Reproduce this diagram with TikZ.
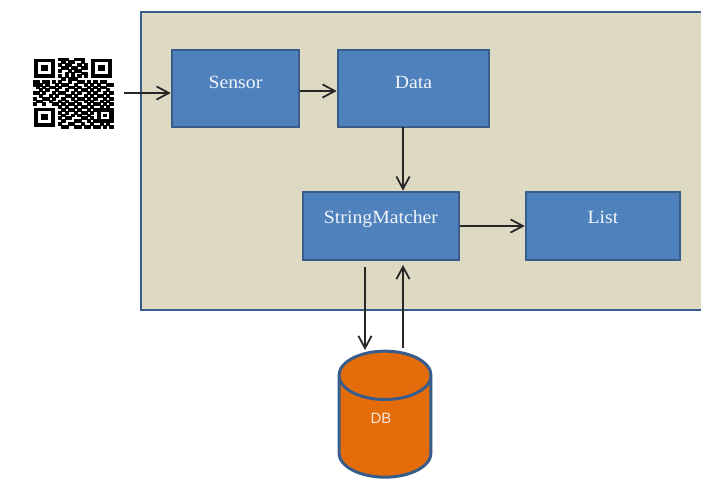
\documentclass[tikz,border=0pt]{standalone}
\usepackage{fontspec}
\setmainfont[FakeStretch=1.06]{Liberation Serif}
\newfontfamily\dbfont{Liberation Sans}
\usetikzlibrary{shapes, shapes.geometric, arrows.meta, positioning}
\definecolor{tan}{HTML}{DDD9C3}
\definecolor{boxblue}{HTML}{4F81BD}
\definecolor{edgeblue}{HTML}{385D8A}
\definecolor{dborange}{HTML}{E46C0A}
\tikzstyle{outerbox} = [rectangle, draw=edgeblue, fill=tan, line width=1.6pt, inner sep = 0pt]
\tikzstyle{bluebox} = [rectangle, draw=edgeblue, fill=boxblue, line width=1.5pt, inner sep = 0pt, text=white!92!boxblue, font=\fontsize{10.6}{12}\selectfont, text height=7pt, text depth=7.5pt]
\tikzstyle{lowbox} = [bluebox, text depth=9.7pt]
\tikzstyle{dbnode} = [cylinder, shape border rotate=90, shape aspect=2.2, draw=edgeblue, fill=dborange, line width=1.7pt, inner sep = 0pt, font=\dbfont\fontsize{9}{11}\selectfont]
\tikzstyle{dbtext} = [text=white!85!dborange, font=\dbfont\fontsize{8.5}{11}\selectfont]
\tikzstyle{line} = [draw, -{Straight Barb[length=7pt, width=7.5pt]}, line width=1pt, black!85]
\tikzstyle{module} = [fill, draw, line width=0.35pt, line join=round]
\begin{document}
\begin{tikzpicture}[x=0.02cm, y=-0.02cm]
			\useasboundingbox [fill=white] (0,0) rectangle (701,479);

			\node [outerbox, minimum width=11.38cm, minimum height=5.96cm] (panel) at (425.5,161) {};
			\node [bluebox, minimum width=2.54cm, minimum height=1.54cm] (sensor) at (235.5,88.5) {Sensor};
			\node [bluebox, minimum width=3.02cm, minimum height=1.54cm] (data) at (413.5,88.5) {Data};
			\node [lowbox, minimum width=3.12cm, minimum height=1.36cm] (matcher) at (381,226) {StringMatcher};
			\node [lowbox, minimum width=3.08cm, minimum height=1.36cm] (list) at (603,226) {List};
			\node [dbnode, minimum width=1.84cm, minimum height=2.52cm] (db) at (385,427) {\phantom{DB}};
			\node [dbtext] (dbname) at (381,418) {DB};

			% QR code
			\foreach \cx/\cy in {34/59, 91/59, 34/108} {
				\fill (\cx,\cy) rectangle +(21,19);
				\fill [white] (\cx+4,\cy+3.5) rectangle +(13,12);
				\fill (\cx+7,\cy+6.5) rectangle +(7,6);
			}
			\foreach \r/\clist in {
				0/{8,9,10,13,14,15},
				1/{9,11,12,15},
				2/{8,10,11,14,16},
				3/{9,10,12,13,15,16},
				4/{8,11,13,14},
				5/{10,12,15,16},
				6/{8,10,12,14,16},
				7/{9,11,12,13},
				8/{0,1,3,4,6,8,11,14,15,17,19,21,22},
				9/{0,1,2,4,7,9,10,13,16,18,20,23,24},
				10/{1,3,5,6,8,11,12,14,17,19,21,22},
				11/{2,4,7,10,13,15,16,18,20,23},
				12/{0,1,3,6,8,9,12,14,17,19,22,24},
				13/{2,5,7,10,11,13,16,18,20,21,23},
				14/{0,3,4,6,9,12,14,15,17,19,22,24},
				15/{1,2,5,8,10,13,16,18,21,23},
				16/{0,3,6,7,9,11,12,14,17,19,20,22,24},
				17/{8,10,13,15,16,18,21,23},
				18/{9,11,12,14,17,19,20,21,22,23,24},
				19/{8,10,13,15,16,18,20,24},
				20/{9,12,14,17,20,22,24},
				21/{8,10,11,15,16,18,20,24},
				22/{9,13,14,17,19,20,21,22,23,24},
				23/{8,11,12,15,18,21,23},
				24/{9,10,13,14,16,17,19,20,22,24}} {
				\foreach \c in \clist {
					\path [module] ({33+\c*3.2},{58+\r*2.8}) rectangle +(3.2,2.8);
				}
			}

			\coordinate (qrout) at (124,93);
			\coordinate (dataout) at (403,127);
			\coordinate (matcherdown) at (365,267);
			\coordinate (dbin) at (365,350);
			\coordinate (dbout) at (403,348);
			\coordinate (matcherup) at (403,265);

			\path [line] (qrout) -- (qrout -| sensor.west);
			\path [line] ([yshift=-0.05cm]sensor.east) -- ([yshift=-0.05cm]data.west);
			\path [line] (dataout) -- (dataout |- matcher.north);
			\path [line] (matcher.east) -- (list.west);
			\path [line] (matcherdown) -- (dbin);
			\path [line] (dbout) -- (matcherup);
		\end{tikzpicture}
\end{document}
